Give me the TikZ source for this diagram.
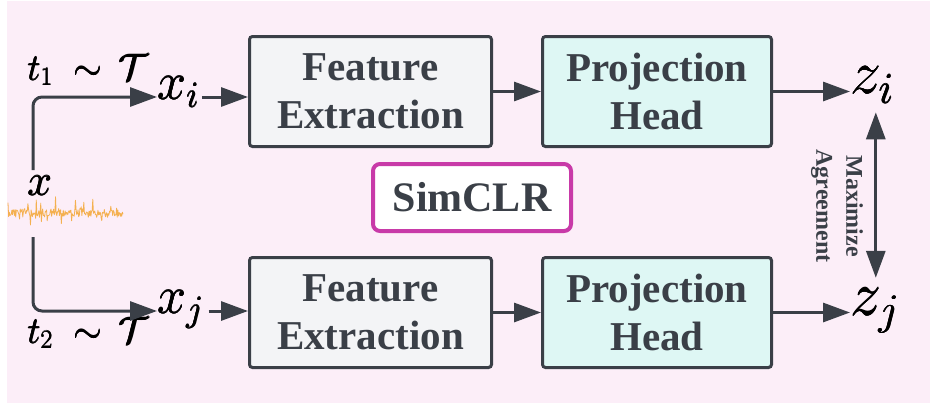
\RequirePackage{fix-cm}
\documentclass[tikz,border=0pt]{standalone}
\usepackage{fontspec}
\setmainfont{Liberation Serif}
\usetikzlibrary{arrows.meta}

\definecolor{bgpink}{RGB}{252,238,248}
\definecolor{edge}{RGB}{58,63,71}
\definecolor{fegray}{RGB}{243,244,246}
\definecolor{phcyan}{RGB}{222,247,244}
\definecolor{clrmag}{RGB}{200,58,168}
\definecolor{sigorange}{RGB}{244,170,62}

% slightly heavier symbols: overprint with a small offset
\newcommand\heavymath[1]{\rlap{$#1$}\rlap{\kern0.7pt$#1$}\rlap{\raise0.6pt\hbox{\kern0.35pt$#1$}}$#1$}

\begin{document}
\begin{tikzpicture}[x=1pt,y=-1pt,
  blockbox/.style={draw=edge, line width=3pt, rounded corners=3pt, text=edge,
    font=\fontsize{41}{48}\selectfont\bfseries, align=center, inner sep=0pt,
    minimum width=242pt, minimum height=110pt},
  projbox/.style={blockbox, fill=phcyan, minimum width=229pt},
  featbox/.style={blockbox, fill=fegray},
  arr/.style={draw=edge, line width=3pt, -{Triangle[length=27pt,width=19pt]}},
  dblarr/.style={draw=edge, line width=3pt,
    {Triangle[length=27pt,width=19pt]}-{Triangle[length=27pt,width=19pt]}},
  mathlbl/.style={inner sep=0pt, text=black}]

\useasboundingbox (0,0) rectangle (931,405);
\fill[white] (0,0) rectangle (931,405);
\fill[bgpink] (7,1) rectangle (930,403);

% processing blocks
\node[featbox] (fe1) at (370.5,91.5) {Feature\\Extraction};
\node[projbox] (ph1) at (657,91.5) {Projection\\Head};
\node[featbox] (fe2) at (370.5,312.5) {Feature\\Extraction};
\node[projbox] (ph2) at (657,312.5) {Projection\\Head};

% method tag
\node[draw=clrmag, line width=4pt, fill=white, rounded corners=7pt,
      minimum width=198pt, minimum height=67pt, text=edge,
      font=\fontsize{42}{48}\selectfont\bfseries] (clr) at (472,197.5) {SimCLR};

% input signal
\pgfmathsetseed{42}
\draw[sigorange, line width=0.8pt, line join=round, opacity=0.9]
  plot[domain=8:123, samples=180] (\x, {213 + 4.5*rand + 14*(rand>0.65)*rand});
\node[mathlbl, anchor=base west, font=\fontsize{44}{50}\selectfont] (x) at (27,195) {\heavymath{x}};

% views and embeddings
\node[mathlbl, anchor=mid west, font=\fontsize{52}{60}\selectfont] (xi) at (157,97) {\heavymath{x_i}};
\node[mathlbl, anchor=mid west, font=\fontsize{52}{60}\selectfont] (xj) at (157,311) {\heavymath{x_j}};
\node[mathlbl, anchor=mid west, font=\fontsize{62}{70}\selectfont] (zi) at (850,91.5) {\heavymath{z_i}};
\node[mathlbl, anchor=mid west, font=\fontsize{62}{70}\selectfont] (zj) at (850,313) {\heavymath{z_j}};

% augmentation labels
\node[mathlbl, anchor=base west, font=\fontsize{37}{42}\selectfont] (t1) at (27,80) {\heavymath{t_1\;\sim\,\mathcal{T}}};
\node[mathlbl, anchor=base west, font=\fontsize{37}{42}\selectfont] (t2) at (27,343) {\heavymath{t_2\;\sim\,\mathcal{T}}};

% agreement label
\node[rotate=-90, text=edge, font=\fontsize{24}{30}\selectfont\bfseries,
      align=center, inner sep=0pt] (agr) at (837,206) {Maximize\\Agreement};

% connectors
\coordinate (srcTop) at (33,170);
\coordinate (srcBot) at (33,237);
\draw[arr, rounded corners=9pt] (srcTop) |- (xi.mid west);
\draw[arr, rounded corners=9pt] (srcBot) |- (xj.mid west);

\draw[arr] (xi.mid east) ++(3pt,0) -- (xi.mid east -| fe1.west);
\draw[arr] (xj.mid east) ++(5pt,0) -- (xj.mid east -| fe2.west);
\draw[arr] (fe1) -- (ph1);
\draw[arr] (fe2) -- (ph2);
\draw[arr] (ph1.east) -- (ph1.east -| zi.west);
\draw[arr] (ph2.east) -- (ph2.east -| zj.west);

\coordinate (agrTop) at ([xshift=4pt,yshift=-9pt]zi.south);
\coordinate (agrBot) at ([yshift=10pt]zj.north);
\draw[dblarr] (agrTop) -- (agrTop |- agrBot);
\end{tikzpicture}
\end{document}
